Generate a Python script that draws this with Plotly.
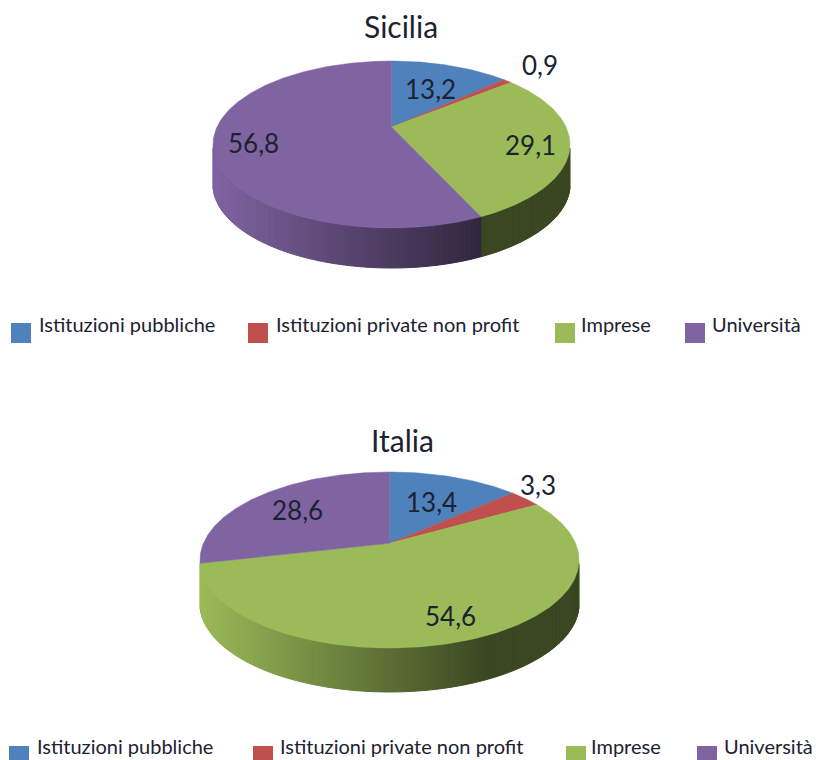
import math
import plotly.graph_objects as go

categories = ["Istituzioni pubbliche", "Istituzioni private non profit", "Imprese", "Università"]
colors = ["#4F81BD", "#C0504D", "#9BBB59", "#8064A2"]
sicilia_values = [13.2, 0.9, 29.1, 56.8]
italia_values = [13.4, 3.3, 54.6, 28.6]

FONT = "Lato"
TEXT = "#1c2230"


def shade(hex_color, f):
    r, g, b = int(hex_color[1:3], 16), int(hex_color[3:5], 16), int(hex_color[5:7], 16)
    return "rgb(%d,%d,%d)" % (r * f, g * f, b * f)


def project(theta, cx, cy, rx, ry, d):
    # clockwise angle from the top, tilted so the apex sits above the ellipse centre
    u, v = math.sin(theta), math.cos(theta)
    w = 1 + d * v
    return cx + rx * u * math.sqrt(1 - d * d) / w, cy - ry * (v + d) / w


def draw_pie(fig, values, cx, cy, rx, ry, d, depth):
    total = sum(values)
    start = 0.0
    for value, color in zip(values, colors):
        end = start + value / total * 2 * math.pi
        n = max(4, int((end - start) * 60))
        angles = [start + (end - start) * i / n for i in range(n + 1)]

        # side wall, in narrow strips so that it darkens from left to right
        for a0, a1 in zip(angles[:-1], angles[1:]):
            x0, y0 = project(a0, cx, cy, rx, ry, d)
            x1, y1 = project(a1, cx, cy, rx, ry, d)
            if y0 < cy + 4 and y1 < cy + 4:
                continue
            p = ((x0 + x1) / 2 - (cx - rx)) / (2 * rx)
            c = shade(color, max(0.38, 1 - 0.82 * p))
            fig.add_trace(go.Scatter(
                x=[x0, x1, x1, x0, x0], y=[y0, y1, y1 + depth, y0 + depth, y0],
                mode="lines", fill="toself", fillcolor=c,
                line=dict(color=c, width=1), hoverinfo="skip", showlegend=False))
        start = end

    start = 0.0
    apex = (cx, cy - ry * d)
    for value, color, name in zip(values, colors, categories):
        end = start + value / total * 2 * math.pi
        n = max(4, int((end - start) * 60))
        pts = [project(start + (end - start) * i / n, cx, cy, rx, ry, d) for i in range(n + 1)]
        fig.add_trace(go.Scatter(
            x=[apex[0]] + [p[0] for p in pts] + [apex[0]],
            y=[apex[1]] + [p[1] for p in pts] + [apex[1]],
            mode="lines", fill="toself", fillcolor=color,
            line=dict(color=color, width=0.5), name=name, showlegend=False))
        start = end


def fmt(v):
    return str(v).replace(".", ",")


fig = go.Figure()
draw_pie(fig, sicilia_values, 391.5, 144.5, 178.5, 83.5, 0.21, 40)
draw_pie(fig, italia_values, 389.5, 560, 189.5, 88, 0.19, 44)

annotations = []


def text(x, y, s, size, anchor="center"):
    annotations.append(dict(x=x, y=y, text=s, showarrow=False, xanchor=anchor, yanchor="middle",
                            font=dict(family=FONT, size=size, color=TEXT)))


text(401, 26, "Sicilia", 30)
text(402, 440, "Italia", 30)
for v, pos in zip(sicilia_values, [(430, 89), (540, 65), (530, 145), (253, 143)]):
    text(pos[0], pos[1], fmt(v), 26)
for v, pos in zip(italia_values, [(431, 502), (538, 485), (450, 616), (297, 510)]):
    text(pos[0], pos[1], fmt(v), 26)

shapes = []
for y_key, y_text, keys, labels in [
    (333, 324, [11, 248, 555, 685], [37, 274, 579, 710]),
    (756, 746, [9, 253, 566, 697], [35, 278, 589, 722]),
]:
    for name, color, kx, tx in zip(categories, colors, keys, labels):
        shapes.append(dict(type="rect", x0=kx, x1=kx + 20, y0=y_key - 10, y1=y_key + 10,
                           fillcolor=color, line=dict(width=0), layer="above"))
        text(tx, y_text, name, 20, "left")

fig.update_layout(
    width=816, height=760,
    margin=dict(l=0, r=0, t=0, b=0),
    paper_bgcolor="white", plot_bgcolor="white",
    xaxis=dict(range=[0, 816], visible=False, fixedrange=True),
    yaxis=dict(range=[760, 0], visible=False, fixedrange=True),
    annotations=annotations, shapes=shapes,
)

fig.write_html("out.html", config=dict(displayModeBar=False),
               post_script="document.body.style.margin = '0';")
